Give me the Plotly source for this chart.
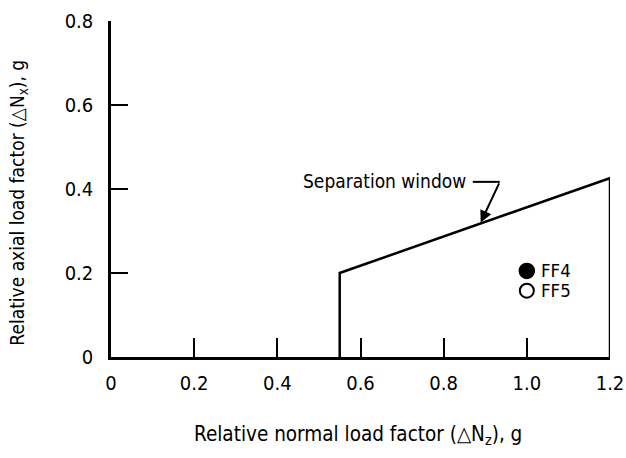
import plotly.graph_objects as go

# Separation window boundary
window_x = [0.55, 0.55, 1.2, 1.2]
window_y = [0.0, 0.2, 0.426, 0.0]

# Flight points
ff4_x, ff4_y = [1.0], [0.205]
ff5_x, ff5_y = [1.0], [0.158]

# Tick labels
x_ticks = [0, 0.2, 0.4, 0.6, 0.8, 1.0, 1.2]
x_ticktext = ["0", "0.2", "0.4", "0.6", "0.8", "1.0", "1.2"]
y_ticks = [0, 0.2, 0.4, 0.6, 0.8]
y_ticktext = ["0", "0.2", "0.4", "0.6", "0.8"]

# Leader for "Separation window" label
leader_x = [0.87, 0.935]
leader_y = [0.417, 0.417]
arrow_tip = (0.889, 0.320)

FONT = "DejaVu Sans Condensed, sans-serif"

fig = go.Figure()
fig.add_trace(go.Scatter(x=window_x, y=window_y, mode="lines",
                         line=dict(color="black", width=2.5), hoverinfo="skip"))
fig.add_trace(go.Scatter(x=leader_x, y=leader_y, mode="lines",
                         line=dict(color="black", width=2), hoverinfo="skip"))
fig.add_trace(go.Scatter(x=ff4_x, y=ff4_y, mode="markers",
                         marker=dict(size=15, color="black", line=dict(color="black", width=1.5))))
fig.add_trace(go.Scatter(x=ff5_x, y=ff5_y, mode="markers",
                         marker=dict(size=14, color="white", line=dict(color="black", width=2))))

fig.add_annotation(x=arrow_tip[0], y=arrow_tip[1], ax=leader_x[1], ay=leader_y[1],
                   axref="x", ayref="y", xref="x", yref="y", text="", showarrow=True,
                   arrowhead=2, arrowsize=1.2, arrowwidth=2, arrowcolor="black")
fig.add_annotation(x=leader_x[0] - 0.012, y=leader_y[0] + 0.003, text="Separation window",
                   showarrow=False, xanchor="right", yanchor="middle",
                   font=dict(size=19, color="black", family=FONT))
fig.add_annotation(x=ff4_x[0] + 0.03, y=ff4_y[0], text="FF4", showarrow=False,
                   xanchor="left", yanchor="middle", font=dict(size=18.5, color="black", family=FONT))
fig.add_annotation(x=ff5_x[0] + 0.03, y=ff5_y[0], text="FF5", showarrow=False,
                   xanchor="left", yanchor="middle", font=dict(size=18.5, color="black", family=FONT))

# Axis titles
fig.add_annotation(xref="paper", yref="paper", x=0.494, y=-0.232,
                   text="Relative normal load factor (△N<sub>z</sub>), g", showarrow=False,
                   xanchor="center", yanchor="middle", font=dict(size=20.5, color="black", family=FONT))
fig.add_annotation(xref="paper", yref="paper", x=-0.186, y=0.46, textangle=-90,
                   text="Relative axial load factor (△N<sub>x</sub>), g", showarrow=False,
                   xanchor="center", yanchor="middle", font=dict(size=19, color="black", family=FONT))

fig.update_layout(
    width=626, height=458,
    margin=dict(l=111, r=16, t=21, b=101),
    paper_bgcolor="white", plot_bgcolor="white",
    showlegend=False,
    font=dict(family=FONT, color="black", size=16),
    xaxis=dict(range=[0, 1.2], tickvals=x_ticks, ticktext=x_ticktext,
               showline=True, linecolor="black", linewidth=2.5,
               ticks="inside", ticklen=19, tickwidth=2, tickcolor="black",
               showgrid=False, zeroline=False, ticklabelstandoff=6, automargin=False,
               tickfont=dict(size=20, family=FONT)),
    yaxis=dict(range=[0, 0.8], tickvals=y_ticks, ticktext=y_ticktext,
               showline=True, linecolor="black", linewidth=2.5,
               ticks="inside", ticklen=17, tickwidth=2, tickcolor="black",
               showgrid=False, zeroline=False, ticklabelstandoff=11, automargin=False,
               tickfont=dict(size=20, family=FONT)),
)

# Remove the browser's default body margin so the figure fills the window exactly
fig.write_html("out.html", config={"displayModeBar": False},
               post_script="document.body.style.margin='0px';document.body.style.overflow='hidden';")
